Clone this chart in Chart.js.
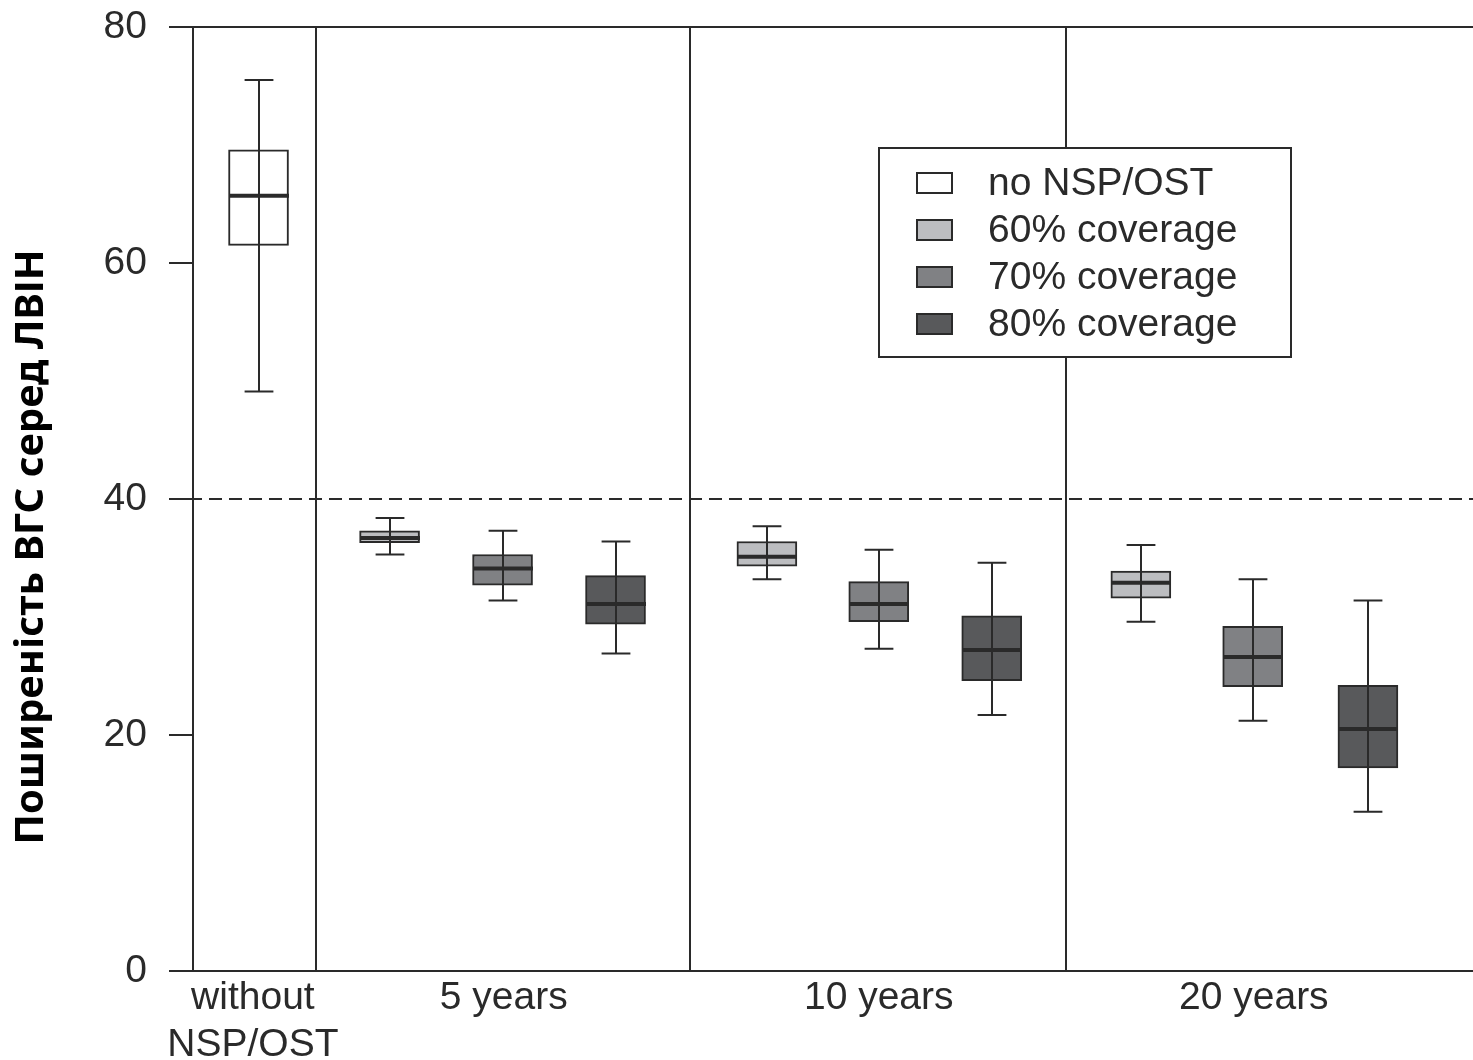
<!DOCTYPE html>
<html><head><meta charset="utf-8">
<script src="https://cdn.jsdelivr.net/npm/chart.js@4.4.1/dist/chart.umd.min.js"></script>
<style>html,body{margin:0;padding:0;background:#fff;overflow:hidden}</style>
</head><body>
<canvas id="c" width="1473" height="1060"></canvas>
<script>
// ---- data ----
const groupLabels = [['without', 'NSP/OST'], '5 years', '10 years', '20 years'];
const groupPos = [0.53, 2.75, 6.07, 9.39];
const separatorPos = [1.09, 4.40, 7.73];
const xRange = [0, 11.33];
const yTicks = [0, 20, 40, 60, 80];
const refLine = 40;
const yTitle = 'Поширеність ВГС серед ЛВІН';

const seriesNames = ['no NSP/OST', '60% coverage', '70% coverage', '80% coverage'];
const seriesColors = ['#ffffff', '#bcbdc0', '#808184', '#58595b'];

const noNspPos = [0.58];
const noNspMin = [49.1];
const noNspQ1 = [61.5];
const noNspMed = [65.7];
const noNspQ3 = [69.6];
const noNspMax = [75.5];

const cov60Pos = [1.74, 5.08, 8.39];
const cov60Min = [35.3, 33.2, 29.6];
const cov60Q1 = [36.3, 34.3, 31.6];
const cov60Med = [36.7, 35.1, 32.9];
const cov60Q3 = [37.3, 36.4, 33.9];
const cov60Max = [38.4, 37.7, 36.1];

const cov70Pos = [2.74, 6.07, 9.38];
const cov70Min = [31.4, 27.3, 21.2];
const cov70Q1 = [32.7, 29.6, 24.1];
const cov70Med = [34.1, 31.1, 26.6];
const cov70Q3 = [35.3, 33.0, 29.2];
const cov70Max = [37.3, 35.7, 33.2];

const cov80Pos = [3.74, 7.07, 10.40];
const cov80Min = [26.9, 21.7, 13.5];
const cov80Q1 = [29.4, 24.6, 17.2];
const cov80Med = [31.1, 27.2, 20.5];
const cov80Q3 = [33.5, 30.1, 24.2];
const cov80Max = [36.4, 34.6, 31.4];

const seriesStats = [
  {pos: noNspPos, min: noNspMin, q1: noNspQ1, med: noNspMed, q3: noNspQ3, max: noNspMax},
  {pos: cov60Pos, min: cov60Min, q1: cov60Q1, med: cov60Med, q3: cov60Q3, max: cov60Max},
  {pos: cov70Pos, min: cov70Min, q1: cov70Q1, med: cov70Med, q3: cov70Q3, max: cov70Max},
  {pos: cov80Pos, min: cov80Min, q1: cov80Q1, med: cov80Med, q3: cov80Q3, max: cov80Max}
];

// ---- styles ----
const INK = '#2a2a2a';
const FONT = '"Liberation Sans", Arial, sans-serif';
Chart.defaults.font.family = FONT;
Chart.defaults.color = INK;

const datasets = seriesStats.map((s, i) => ({
  label: seriesNames[i],
  data: s.pos.map((p, j) => ({x: p, y: [s.q1[j], s.q3[j]]})),
  backgroundColor: seriesColors[i],
  borderColor: INK,
  borderWidth: 2,
  borderSkipped: false,
  grouped: false,
  maxBarThickness: 60,
  barPercentage: 1,
  categoryPercentage: 1
}));

const framePlugin = {
  id: 'frame',
  beforeDatasetsDraw(chart) {
    const {ctx, chartArea: a, scales: {x, y}} = chart;
    ctx.save();
    ctx.strokeStyle = INK;
    ctx.lineWidth = 2;
    const topY = Math.round(y.getPixelForValue(yTicks[yTicks.length - 1]));
    ctx.beginPath();
    ctx.moveTo(a.left, topY);
    ctx.lineTo(a.right, topY);
    ctx.stroke();
    separatorPos.forEach(v => {
      const px = Math.round(x.getPixelForValue(v));
      ctx.beginPath();
      ctx.moveTo(px, a.top);
      ctx.lineTo(px, a.bottom);
      ctx.stroke();
    });
    const ry = Math.round(y.getPixelForValue(refLine));
    ctx.setLineDash([13, 7]);
    ctx.beginPath();
    ctx.moveTo(a.left - 24, ry);
    ctx.lineTo(a.right, ry);
    ctx.stroke();
    ctx.restore();
  },
  afterDatasetsDraw(chart) {
    const {ctx, scales: {y}} = chart;
    ctx.save();
    ctx.strokeStyle = INK;
    seriesStats.forEach((s, i) => {
      const meta = chart.getDatasetMeta(i);
      meta.data.forEach((bar, j) => {
        const cx = Math.round(bar.x);
        const w = bar.width;
        const cap = w * 0.48;
        const yMin = y.getPixelForValue(s.min[j]);
        const yMax = y.getPixelForValue(s.max[j]);
        const yMed = y.getPixelForValue(s.med[j]);
        ctx.lineWidth = 2;
        ctx.beginPath();
        ctx.moveTo(cx, yMin); ctx.lineTo(cx, yMax);
        ctx.moveTo(cx - cap / 2, yMin); ctx.lineTo(cx + cap / 2, yMin);
        ctx.moveTo(cx - cap / 2, yMax); ctx.lineTo(cx + cap / 2, yMax);
        ctx.stroke();
        ctx.lineWidth = 4;
        ctx.beginPath();
        ctx.moveTo(cx - w / 2, yMed); ctx.lineTo(cx + w / 2, yMed);
        ctx.stroke();
      });
    });
    ctx.restore();
  },
  afterDraw(chart) {
    const {ctx} = chart;
    ctx.save();
    const L = 879, T = 148, R = 1291, B = 357;
    ctx.fillStyle = '#fff';
    ctx.fillRect(L, T, R - L, B - T);
    ctx.strokeStyle = INK;
    ctx.lineWidth = 2;
    ctx.strokeRect(L, T, R - L, B - T);
    ctx.font = '39px ' + FONT;
    ctx.textBaseline = 'middle';
    ctx.textAlign = 'left';
    seriesNames.forEach((name, i) => {
      const cy = 183 + i * 47;
      ctx.fillStyle = seriesColors[i];
      ctx.fillRect(917, cy - 10, 35, 20);
      ctx.strokeRect(917, cy - 10, 35, 20);
      ctx.fillStyle = INK;
      ctx.fillText(name, 988, cy + 1);
    });
    ctx.translate(32, 547);
    ctx.rotate(-Math.PI / 2);
    ctx.textAlign = 'center';
    ctx.textBaseline = 'middle';
    ctx.fillStyle = '#000';
    ctx.font = 'bold 40px "Noto Sans", "Open Sans", sans-serif';
    ctx.fillText(yTitle, 0, 0);
    ctx.restore();
  }
};

new Chart(document.getElementById('c'), {
  type: 'bar',
  data: {datasets},
  options: {
    responsive: false,
    animation: false,
    devicePixelRatio: 1,
    layout: {padding: {top: 27, right: 0, left: 0, bottom: 0}},
    plugins: {legend: {display: false}, tooltip: {enabled: false}},
    scales: {
      x: {
        type: 'linear',
        offset: false,
        min: xRange[0],
        max: xRange[1],
        afterBuildTicks(scale) { scale.ticks = groupPos.map(v => ({value: v})); },
        afterFit(scale) { scale.height = 89; scale.paddingLeft = 0; scale.paddingRight = 0; },
        ticks: {
          autoSkip: false,
          maxRotation: 0,
          padding: 4,
          color: INK,
          font: {size: 39, family: FONT},
          callback(value) { const k = groupPos.indexOf(value); return k >= 0 ? groupLabels[k] : ''; }
        },
        grid: {display: false, drawTicks: false, offset: false},
        border: {display: true, color: INK, width: 2}
      },
      y: {
        min: yTicks[0],
        max: yTicks[yTicks.length - 1],
        afterBuildTicks(scale) { scale.ticks = yTicks.map(v => ({value: v})); },
        afterFit(scale) { scale.width = 193; scale.paddingTop = 0; scale.paddingBottom = 0; },
        ticks: {padding: 22, color: INK, font: {size: 39, family: FONT}},
        grid: {drawOnChartArea: false, drawTicks: true, tickLength: 24, color: INK, lineWidth: 2},
        border: {display: true, color: INK, width: 2}
      }
    }
  },
  plugins: [framePlugin]
});
</script>
</body></html>
